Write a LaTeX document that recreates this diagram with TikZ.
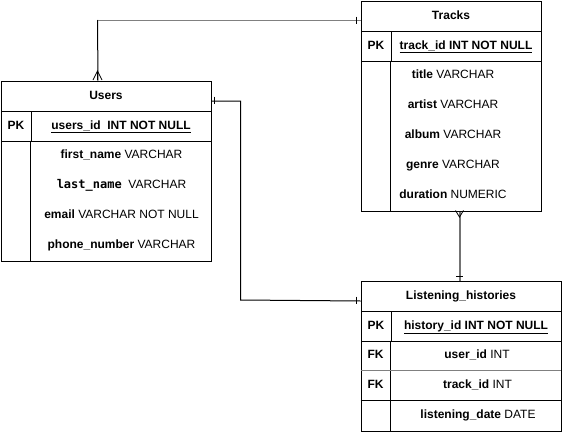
\documentclass[tikz,border=0pt]{standalone}
\usepackage{fontspec}
\setmainfont{Liberation Sans}
\newfontfamily\codefont{DejaVu Sans Mono}
\newcommand{\fld}[2]{\textbf{#1} #2}
\begin{document}
\begin{tikzpicture}[x=1pt,y=-1pt,line width=1pt,font=\fontsize{12}{14}\selectfont,
	every node/.style={text height=9pt,text depth=2.5pt},
	box/.style={draw,inner sep=0pt,anchor=north west,minimum height=30},
	head/.style={box,font=\fontsize{12}{14}\selectfont\bfseries},
	link/.style={draw=gray!90!black,line width=1.2pt}]
		\useasboundingbox (0,0) rectangle (562,431);
		\node[box,minimum width=210,minimum height=180] (users) at (.5,80.5) {};
		\node[head,minimum width=210] (usersT) at (.5,80.5) {Users};
		\node[head,minimum width=30] (usersK) at (.5,110.5) {PK};
		\node[head,minimum width=180] (usersP) at (30.5,110.5) {\underline{users\_id\ \ INT NOT NULL}};
		\draw (30.5,140.5)--(30.5,260.5);
		\foreach \t [count=\i] in {\fld{first\_name}{VARCHAR},{\codefont\bfseries last\_name}\ \ VARCHAR,\fld{email}{VARCHAR NOT NULL},\fld{phone\_number}{VARCHAR}}
		\node (u\i) at (121.5,125.5+30*\i) {\t};
		\node[box,minimum width=180,minimum height=210] (tracks) at (360.5,.5) {};
		\node[head,minimum width=180] (tracksT) at (360.5,.5) {Tracks};
		\node[head,minimum width=30] (tracksK) at (360.5,30.5) {PK};
		\node[head,minimum width=150] (tracksP) at (390.5,30.5) {\underline{track\_id INT NOT NULL}};
		\draw (390.5,60.5)--(390.5,210.5);
		\foreach \t [count=\i] in {\fld{title}{VARCHAR},\fld{artist}{VARCHAR},\fld{album}{VARCHAR},\fld{genre}{VARCHAR},\fld{duration}{NUMERIC}}
		\node (t\i) at (453,45.5+30*\i) {\t};
		\node[box,minimum width=200,minimum height=150] (hist) at (360.5,280.5) {};
		\node[head,minimum width=200] (histT) at (360.5,280.5) {Listening\_histories};
		\node[head,minimum width=30] (histK) at (360.5,310.5) {PK};
		\node[head,minimum width=170] (histP) at (390.5,310.5) {\underline{history\_id INT NOT NULL}};
		\draw (360.5,400.5)--(560.5,400.5) (390.5,340.5)--(390.5,430.5);
		\draw[gray,line width=1.3pt] (360.5,370.5)--(560.5,370.5);
		\node (histK1) at (375.5,355.5) {\textbf{FK}};
		\node (histK2) at (375.5,385.5) {\textbf{FK}};
		\node (h1) at (477,355.5) {\fld{user\_id}{INT}};
		\node (h2) at (477.5,385.5) {\fld{track\_id}{INT}};
		\node (h3) at (478,415.5) {\fld{listening\_date}{DATE}};
		\coordinate (bend) at (97.5,20);
		\draw ([xshift=-8pt]users.north)--(bend);
		\draw[gray] (bend)--([yshift=-19.5pt]tracks.north west);
		\draw ([yshift=-5pt]usersT.east)-|(240.5,300)--([yshift=-5pt]histT.west);
		\draw[link] ([xshift=9pt]tracks.south)--([xshift=9pt]tracks.south|-hist.north);
		\draw[line width=.8pt] (93,80)--(97.5,71)--(102,80) (97.5,71)--(97.5,80);
		\draw[line width=.8pt] (455.5,210.5)--(459.5,217)--(463.5,210.5);
		\draw (456,276.5)--(463,276.5) (356.5,16.5)--(356.5,24) (214.5,96.5)--(214.5,104) (356.5,296.5)--(356.5,304);
		\end{tikzpicture}
\end{document}
